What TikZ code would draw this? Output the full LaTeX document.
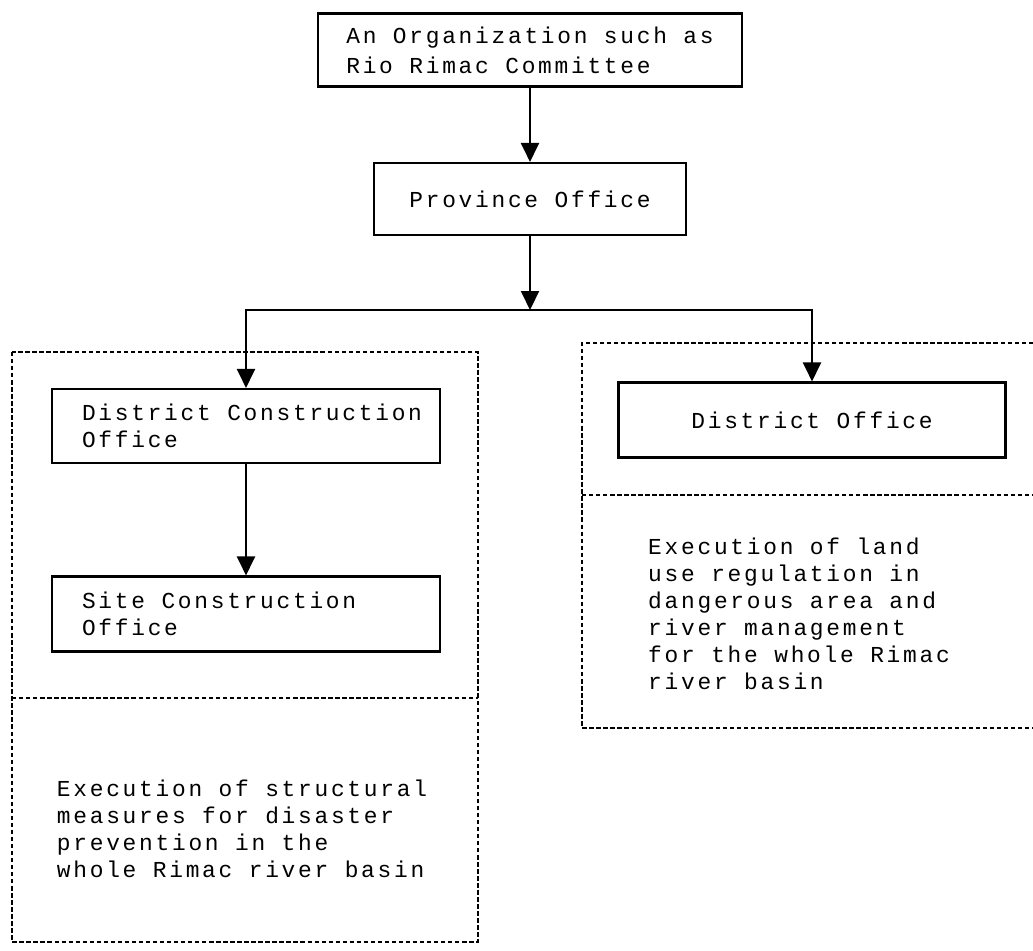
\documentclass[tikz,border=0pt]{standalone}
\usepackage{fontspec}
\usepackage{tikz}
\usetikzlibrary{arrows.meta}
\newfontfamily\typefont[LetterSpace=12]{Liberation Mono}

\begin{document}
\begin{tikzpicture}[x=0.02cm,y=-0.02cm,>={Triangle[length=0.38cm,width=0.36cm]}]
  \tikzstyle{box}=[draw, rectangle, line width=1.2pt, align=left, inner sep=0pt,
    font=\typefont\fontsize{13pt}{15.5pt}\selectfont]
  \tikzstyle{note}=[align=left, inner sep=0pt, font=\typefont\fontsize{13pt}{15.3pt}\selectfont]
  \tikzstyle{panel}=[dash pattern=on 2.5pt off 1.5pt, line width=1.2pt]
  \useasboundingbox (0,0) rectangle (1033,950);

  % dashed frames
  \draw[panel] (12,352) rectangle (478,942);
  \draw[panel] (12,698) -- (478,698);
  \draw[panel] (1033,343) -- (582,343) -- (582,728) -- (1033,728);
  \draw[panel] (582,495) -- (1033,495);

  \node[box, minimum width=8.48cm, minimum height=1.46cm,
    font=\typefont\fontsize{13pt}{17pt}\selectfont] (org) at (530,50) {An Organization such as\\Rio Rimac Committee};
  \node[box, minimum width=6.24cm, minimum height=1.44cm] (prov) at (530,199) {Province Office};
  \node[box, minimum width=7.76cm, minimum height=1.48cm] (dco) at (246,426) {\makebox[6.56cm][l]{District Construction}\\Office};
  \node[box, minimum width=7.76cm, minimum height=1.5cm] (site) at (246,614) {\makebox[6.56cm][l]{Site Construction}\\Office};
  \node[box, minimum width=7.74cm, minimum height=1.5cm] (dof) at (812,420) {District Office};
  \node[note] (landuse) at (799,614) {Execution of land\\use regulation in\\dangerous area and\\river management\\for the whole Rimac\\river basin};
  \node[note] (structural) at (242,829) {Execution of structural\\measures for disaster\\prevention in the\\whole Rimac river basin};
  \coordinate (split) at (530,310);

  \draw[->, line width=1.2pt] (org) -- (prov);
  \draw[->, line width=1.2pt] (prov) -- (split);
  \draw[->, line width=1.2pt] (split) -| (dco);
  \draw[->, line width=1.2pt] (split) -| (dof);
  \draw[->, line width=1.2pt] (dco) -- (site);
\end{tikzpicture}
\end{document}
